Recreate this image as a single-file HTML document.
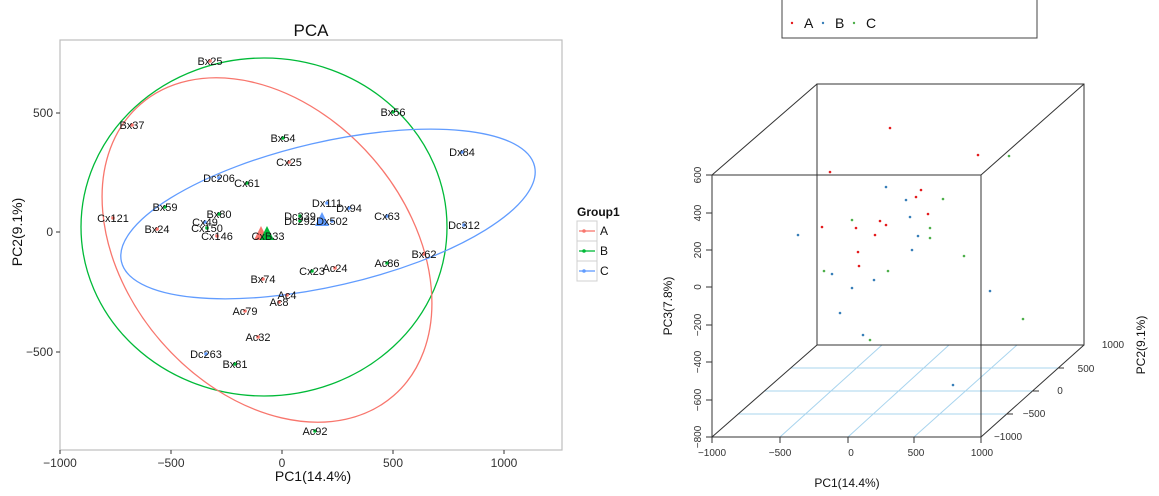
<!DOCTYPE html>
<html><head><meta charset="utf-8"><style>
html,body{margin:0;padding:0;background:#fff;}
svg{display:block;font-family:"Liberation Sans",Arial,sans-serif;}
</style></head><body>
<svg width="1159" height="496" viewBox="0 0 1159 496" xmlns="http://www.w3.org/2000/svg">
<rect width="1159" height="496" fill="#fff"/>
<!-- LEFT PCA -->
<text x="311" y="36" font-size="17" text-anchor="middle" fill="#111">PCA</text>
<rect x="60" y="40" width="502" height="410" fill="#fff" stroke="#bdbdbd" stroke-width="1.2"/>
<!-- ellipses -->
<ellipse cx="264" cy="227" rx="183" ry="169" fill="none" stroke="#00BA38" stroke-width="1.3"/>
<ellipse cx="267" cy="250" rx="193" ry="140" transform="rotate(49 267 250)" fill="none" stroke="#F8766D" stroke-width="1.3"/>
<ellipse cx="328" cy="214" rx="212" ry="72" transform="rotate(-13 328 214)" fill="none" stroke="#619CFF" stroke-width="1.3"/>
<!-- centroids -->
<polygon points="261,226 254,240 268,240" fill="#F8766D"/>
<polygon points="267,226 260,240 274,240" fill="#00BA38"/>
<polygon points="322,212 315,226 329,226" fill="#619CFF"/>
<g font-size="11" fill="#111" text-anchor="middle">
<g fill="#F8766D"><circle cx="210" cy="61" r="1.8"/><circle cx="132" cy="125" r="1.8"/><circle cx="289" cy="162" r="1.8"/><circle cx="113" cy="218" r="1.8"/><circle cx="157" cy="229" r="1.8"/><circle cx="217" cy="236" r="1.8"/><circle cx="424" cy="254" r="1.8"/><circle cx="335" cy="268" r="1.8"/><circle cx="263" cy="279" r="1.8"/><circle cx="287" cy="295" r="1.8"/><circle cx="279" cy="302" r="1.8"/><circle cx="245" cy="311" r="1.8"/><circle cx="258" cy="337" r="1.8"/></g>
<g fill="#00BA38"><circle cx="393" cy="112" r="1.8"/><circle cx="283" cy="138" r="1.8"/><circle cx="247" cy="183" r="1.8"/><circle cx="165" cy="207" r="1.8"/><circle cx="219" cy="214" r="1.8"/><circle cx="300" cy="216" r="1.8"/><circle cx="300" cy="221" r="1.8"/><circle cx="207" cy="228" r="1.8"/><circle cx="268" cy="236" r="1.8"/><circle cx="387" cy="263" r="1.8"/><circle cx="312" cy="271" r="1.8"/><circle cx="235" cy="364" r="1.8"/><circle cx="315" cy="431" r="1.8"/></g>
<g fill="#619CFF"><circle cx="462" cy="152" r="1.8"/><circle cx="219" cy="178" r="1.8"/><circle cx="327" cy="203" r="1.8"/><circle cx="349" cy="208" r="1.8"/><circle cx="332" cy="221" r="1.8"/><circle cx="387" cy="216" r="1.8"/><circle cx="464" cy="225" r="1.8"/><circle cx="205" cy="222" r="1.8"/><circle cx="206" cy="354" r="1.8"/></g>
<text x="210" y="65">Bx25</text><text x="132" y="129">Bx37</text><text x="393" y="116">Bx56</text>
<text x="283" y="142">Bx54</text><text x="462" y="156">Dx84</text><text x="289" y="166">Cx25</text>
<text x="219" y="182">Dc206</text><text x="247" y="187">Cx61</text><text x="327" y="207">Dx111</text>
<text x="349" y="212">Dx94</text><text x="165" y="211">Bx59</text><text x="219" y="218">Bx80</text>
<text x="113" y="222">Cx121</text><text x="300" y="220">Dc339</text><text x="300" y="225">Dc292</text>
<text x="332" y="225">Dx502</text><text x="387" y="220">Cx63</text><text x="464" y="229">Dc312</text>
<text x="205" y="226">Cx49</text><text x="207" y="232">Cx150</text><text x="157" y="233">Bx24</text>
<text x="217" y="240">Cx146</text><text x="268" y="240">CxB33</text><text x="424" y="258">Bx62</text>
<text x="387" y="267">Ac86</text><text x="312" y="275">Cx23</text><text x="335" y="272">Ac24</text>
<text x="263" y="283">Bx74</text><text x="287" y="299">Ac4</text><text x="279" y="306">Ac8</text>
<text x="245" y="315">Ac79</text><text x="258" y="341">Ac32</text><text x="206" y="358">Dc263</text>
<text x="235" y="368">Bx81</text><text x="315" y="435">Ac92</text>
</g>
<!-- axes ticks -->
<g stroke="#333" stroke-width="1">
<line x1="60" y1="450" x2="60" y2="454"/><line x1="171" y1="450" x2="171" y2="454"/><line x1="282" y1="450" x2="282" y2="454"/><line x1="393" y1="450" x2="393" y2="454"/><line x1="504" y1="450" x2="504" y2="454"/>
<line x1="56" y1="113" x2="60" y2="113"/><line x1="56" y1="232" x2="60" y2="232"/><line x1="56" y1="352" x2="60" y2="352"/>
</g>
<g font-size="12" fill="#333" text-anchor="middle">
<text x="60" y="467">−1000</text><text x="171" y="467">−500</text><text x="282" y="467">0</text><text x="393" y="467">500</text><text x="504" y="467">1000</text>
</g>
<g font-size="12" fill="#333" text-anchor="end">
<text x="53" y="117">500</text><text x="53" y="236">0</text><text x="53" y="356">−500</text>
</g>
<text x="313" y="481" font-size="14" text-anchor="middle" fill="#111">PC1(14.4%)</text>
<text transform="translate(22 232) rotate(-90)" font-size="14" text-anchor="middle" fill="#111">PC2(9.1%)</text>
<!-- legend -->
<text x="577" y="216" font-size="12" font-weight="bold" fill="#111">Group1</text>
<g stroke="#d0d0d0" fill="#fff"><rect x="577" y="221" width="20" height="20"/><rect x="577" y="241" width="20" height="20"/><rect x="577" y="261" width="20" height="20"/></g>
<line x1="579" y1="231" x2="595" y2="231" stroke="#F8766D" stroke-width="1.3"/><circle cx="584" cy="231" r="1.8" fill="#F8766D"/>
<line x1="579" y1="251" x2="595" y2="251" stroke="#00BA38" stroke-width="1.3"/><circle cx="584" cy="251" r="1.8" fill="#00BA38"/>
<line x1="579" y1="271" x2="595" y2="271" stroke="#619CFF" stroke-width="1.3"/><circle cx="584" cy="271" r="1.8" fill="#619CFF"/>
<g font-size="12" fill="#111"><text x="600" y="235">A</text><text x="600" y="255">B</text><text x="600" y="275">C</text></g>

<!-- RIGHT 3D -->
<path d="M782,0 L782,38 L1037,38 L1037,0" fill="none" stroke="#444" stroke-width="1"/>
<circle cx="792" cy="23" r="1.2" fill="#e41a1c"/><text x="804" y="28" font-size="14" fill="#111">A</text>
<circle cx="823" cy="23" r="1.2" fill="#377eb8"/><text x="835" y="28" font-size="14" fill="#111">B</text>
<circle cx="854" cy="23" r="1.2" fill="#4daf4a"/><text x="866" y="28" font-size="14" fill="#111">C</text>
<!-- floor grid -->
<g stroke="#a8d4ee" stroke-width="1">
<line x1="791" y1="368" x2="1058" y2="368"/><line x1="765" y1="391" x2="1033" y2="391"/><line x1="738" y1="414" x2="1007" y2="414"/>
<line x1="780" y1="437" x2="882" y2="345"/><line x1="848" y1="437" x2="949" y2="345"/><line x1="914" y1="437" x2="1017" y2="345"/>
</g>
<g stroke="#333" stroke-width="1" fill="none">
<rect x="817" y="84" width="267" height="261"/>
<rect x="712" y="175" width="269" height="262"/>
<line x1="712" y1="175" x2="817" y2="84"/><line x1="981" y1="175" x2="1084" y2="84"/>
<line x1="712" y1="437" x2="817" y2="345"/><line x1="981" y1="437" x2="1084" y2="345"/>
<line x1="712" y1="437" x2="712" y2="443"/><line x1="780" y1="437" x2="780" y2="443"/><line x1="848" y1="437" x2="848" y2="443"/><line x1="914" y1="437" x2="914" y2="443"/><line x1="981" y1="437" x2="981" y2="443"/>
<line x1="706" y1="175" x2="712" y2="175"/><line x1="706" y1="213" x2="712" y2="213"/><line x1="706" y1="250" x2="712" y2="250"/><line x1="706" y1="287" x2="712" y2="287"/><line x1="706" y1="325" x2="712" y2="325"/><line x1="706" y1="362" x2="712" y2="362"/><line x1="706" y1="400" x2="712" y2="400"/><line x1="706" y1="437" x2="712" y2="437"/>
<line x1="1058" y1="368" x2="1064" y2="368"/><line x1="1033" y1="391" x2="1039" y2="391"/><line x1="1007" y1="414" x2="1013" y2="414"/>
</g>
<g font-size="10" fill="#333" text-anchor="middle">
<text x="712" y="456">−1000</text><text x="780" y="456">−500</text><text x="851" y="456">0</text><text x="916" y="456">500</text><text x="982" y="456">1000</text>
</g>
<g font-size="10" fill="#333" text-anchor="middle">
<text transform="translate(701 175) rotate(-90)">600</text><text transform="translate(701 213) rotate(-90)">400</text><text transform="translate(701 250) rotate(-90)">200</text><text transform="translate(701 287) rotate(-90)">0</text><text transform="translate(701 325) rotate(-90)">−200</text><text transform="translate(701 362) rotate(-90)">−400</text><text transform="translate(701 400) rotate(-90)">−600</text><text transform="translate(701 437) rotate(-90)">−800</text>
</g>
<g font-size="10" fill="#333" text-anchor="middle">
<text x="1113" y="348">1000</text><text x="1086" y="372">500</text><text x="1060" y="394">0</text><text x="1034" y="417">−500</text><text x="1008" y="440">−1000</text>
</g>
<text x="847" y="487" font-size="12" text-anchor="middle" fill="#111">PC1(14.4%)</text>
<text transform="translate(672 306) rotate(-90)" font-size="12" text-anchor="middle" fill="#111">PC3(7.8%)</text>
<text transform="translate(1145 345) rotate(-90)" font-size="12" text-anchor="middle" fill="#111">PC2(9.1%)</text>
<g fill="#e41a1c">
<circle cx="890" cy="128" r="1.3"/><circle cx="978" cy="155" r="1.3"/><circle cx="830" cy="172" r="1.3"/><circle cx="921" cy="190" r="1.3"/><circle cx="916" cy="197" r="1.3"/><circle cx="928" cy="214" r="1.3"/><circle cx="880" cy="221" r="1.3"/><circle cx="886" cy="225" r="1.3"/><circle cx="822" cy="227" r="1.3"/><circle cx="856" cy="228" r="1.3"/><circle cx="875" cy="235" r="1.3"/><circle cx="858" cy="252" r="1.3"/><circle cx="859" cy="266" r="1.3"/>
</g>
<g fill="#377eb8">
<circle cx="886" cy="187" r="1.3"/><circle cx="906" cy="200" r="1.3"/><circle cx="910" cy="217" r="1.3"/><circle cx="798" cy="235" r="1.3"/><circle cx="918" cy="236" r="1.3"/><circle cx="912" cy="250" r="1.3"/><circle cx="832" cy="274" r="1.3"/><circle cx="874" cy="280" r="1.3"/><circle cx="852" cy="288" r="1.3"/><circle cx="990" cy="291" r="1.3"/><circle cx="840" cy="313" r="1.3"/><circle cx="863" cy="335" r="1.3"/><circle cx="953" cy="385" r="1.3"/>
</g>
<g fill="#4daf4a">
<circle cx="1009" cy="156" r="1.3"/><circle cx="943" cy="199" r="1.3"/><circle cx="852" cy="220" r="1.3"/><circle cx="930" cy="228" r="1.3"/><circle cx="930" cy="238" r="1.3"/><circle cx="964" cy="256" r="1.3"/><circle cx="824" cy="271" r="1.3"/><circle cx="888" cy="271" r="1.3"/><circle cx="1023" cy="319" r="1.3"/><circle cx="870" cy="340" r="1.3"/>
</g>
</svg>
</body></html>
